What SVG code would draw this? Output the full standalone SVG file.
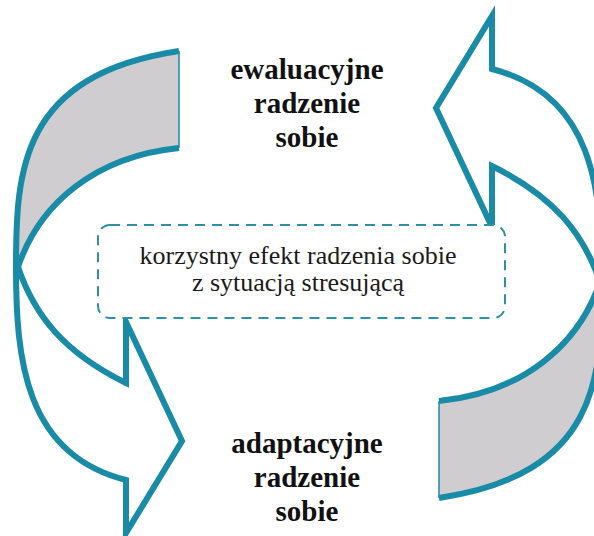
<svg xmlns="http://www.w3.org/2000/svg" xmlns:xlink="http://www.w3.org/1999/xlink" width="594" height="536" viewBox="0 0 594 536">
  <style>
    .band { fill: #cfcdcf; stroke: none; }
    .edge { fill: none; stroke: #1a8ba6; stroke-width: 6; stroke-linecap: butt; }
    .thin { fill: none; stroke: #1a8ba6; stroke-width: 1.5; }
    .front { fill: #ffffff; stroke: #1a8ba6; stroke-width: 6; stroke-linejoin: miter; stroke-miterlimit: 10; }
    .box { fill: #ffffff; stroke: #2e8fa6; stroke-width: 2; stroke-dasharray: 10 7; }
    .title { font-family: 'Liberation Serif', 'Times New Roman', serif; font-weight: bold; font-size: 29px; fill: #111111; text-anchor: middle; }
    .body { font-family: 'Liberation Serif', 'Times New Roman', serif; font-size: 26px; fill: #1a1a1a; text-anchor: middle; }
  </style>
  <defs>
    <g id="curvedArrow">
      <path class="band" d="M179,51 C20,75 16,171 16,267 C39.5,203.9 94.9,156.4 179,148 Z"/>
      <path class="edge" d="M179,51 C20,75 16,171 16,267"/>
      <path class="edge" d="M179,148 C94.9,156.4 39.5,203.9 18,267"/>
      <path class="thin" d="M179,51 L179,148"/>
      <path class="front" d="M16,267 C16,358 24.3,454.3 126,480 L126,533 L182,441 L126,322 L126,383 C64.3,352.6 34.7,316 18,267 Z"/>
    </g>
  </defs>
  <g id="connectors">
    <use id="arrow-left" xlink:href="#curvedArrow" href="#curvedArrow"/>
    <use id="arrow-right" xlink:href="#curvedArrow" href="#curvedArrow" transform="rotate(180 309 274.5)"/>
  </g>
  <g id="node-center">
    <rect class="box" x="98" y="225" width="407" height="93" rx="12" ry="12"/>
    <text class="body" x="298" y="264">korzystny efekt radzenia sobie</text>
    <text class="body" x="298" y="291">z sytuacją stresującą</text>
  </g>
  <g id="node-top">
    <text class="title" x="307" y="79">ewaluacyjne</text>
    <text class="title" x="307" y="113">radzenie</text>
    <text class="title" x="307" y="147">sobie</text>
  </g>
  <g id="node-bottom">
    <text class="title" x="307" y="453">adaptacyjne</text>
    <text class="title" x="307" y="487">radzenie</text>
    <text class="title" x="307" y="521">sobie</text>
  </g>
</svg>
